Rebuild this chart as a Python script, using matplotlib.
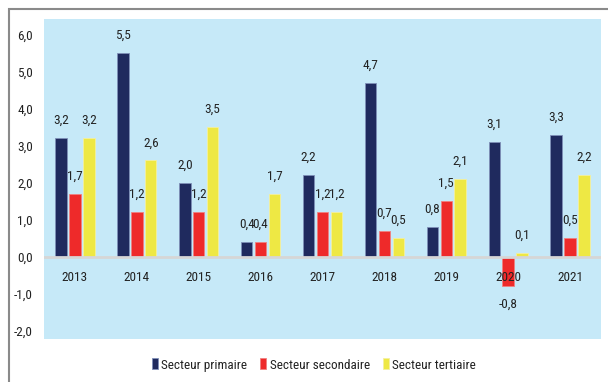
import matplotlib
matplotlib.use("Agg")
import matplotlib.pyplot as plt
from matplotlib import font_manager as fm
from matplotlib.patches import Rectangle
import numpy as np

years = ["2013", "2014", "2015", "2016", "2017", "2018", "2019", "2020", "2021"]
primaire = [3.2, 5.5, 2.0, 0.4, 2.2, 4.7, 0.8, 3.1, 3.3]
secondaire = [1.7, 1.2, 1.2, 0.4, 1.2, 0.7, 1.5, -0.8, 0.5]
tertiaire = [3.2, 2.6, 3.5, 1.7, 1.2, 0.5, 2.1, 0.1, 2.2]
series_names = ["Secteur primaire", "Secteur secondaire", "Secteur tertiaire"]
yticks = [-2, -1, 0, 1, 2, 3, 4, 5, 6]

colors = ["#1F2A5E", "#EE2A2A", "#EEE844"]
edges = ["#7f8fb8", "#f08080", "#f4f0a0"]
bg = "#C6E9F8"


def pick_narrow_font():
    """Return (family, stretch) of the narrowest regular sans face available."""
    prefs = [("Liberation Sans Narrow", None), ("Noto Sans", "extra-condensed"),
             ("Open Sans", "condensed"), ("Noto Sans", "condensed"),
             ("Roboto Condensed", None), ("DejaVu Sans", "condensed")]
    faces = fm.fontManager.ttflist
    for fam, st in prefs:
        for f in faces:
            if f.name == fam and f.style == "normal" and f.weight in (400, "normal", "regular") \
                    and (st is None or f.stretch == st):
                return fam, (st or f.stretch)
    return "DejaVu Sans", "condensed"


fam, stretch = pick_narrow_font()
plt.rcParams["font.family"] = [fam, "DejaVu Sans"]
plt.rcParams["font.stretch"] = stretch

W, H = 608, 382
fig = plt.figure(figsize=(W / 100, H / 100), dpi=100)
fig.patch.set_facecolor("white")

# chart-area frame
fig.patches.append(Rectangle((9 / W, -0.1), 1.2, 1 - 9 / H + 0.1, transform=fig.transFigure,
                             fill=False, edgecolor="#8a8a8a", linewidth=1.5))

ax = fig.add_axes([44 / W, 1 - 339 / H, (601 - 44) / W, (339 - 19) / H])
ax.set_facecolor(bg)
for s in ax.spines.values():
    s.set_visible(False)

x = np.arange(len(years))
bw = 0.185
off = 0.225
fs = 9.5
fmt = lambda v: f"{v:.1f}".replace(".", ",")

for i, (vals, col, name) in enumerate(zip([primaire, secondaire, tertiaire], colors, series_names)):
    xs = x + (i - 1) * off
    ax.bar(xs, vals, width=bw, color=col, edgecolor=edges[i], linewidth=0.6, label=name, zorder=2)
    for xv, v in zip(xs, vals):
        if v >= 0:
            ax.text(xv, v + 0.3, fmt(v), ha="center", va="bottom", fontsize=fs, color="#222222", zorder=4)
        else:
            ax.text(xv, v - 0.3, fmt(v), ha="center", va="top", fontsize=fs, color="#222222", zorder=4)

ax.axhline(0, color="#d6d6d6", linewidth=2, zorder=3)

for xv, yr in zip(x, years):
    ax.text(xv, -0.55, yr, ha="center", va="center", fontsize=fs, color="#222222", zorder=5)

ax.set_xlim(-0.5, len(years) - 0.5)
ax.set_ylim(-2.22, 6.42)
ax.set_xticks([])
ax.set_yticks(yticks)
ax.set_yticklabels([fmt(float(t)) for t in yticks], fontsize=fs, color="#222222")
ax.tick_params(axis="y", length=0, pad=8)

leg = fig.legend(loc="center", bbox_to_anchor=(314 / W, 1 - 365 / H), ncol=3, frameon=False,
                 fontsize=fs, handlelength=0.45, handleheight=0.9, handletextpad=0.25,
                 columnspacing=1.0)
for t in leg.get_texts():
    t.set_color("#222222")

fig.savefig("out.png", dpi=100, facecolor="white")
